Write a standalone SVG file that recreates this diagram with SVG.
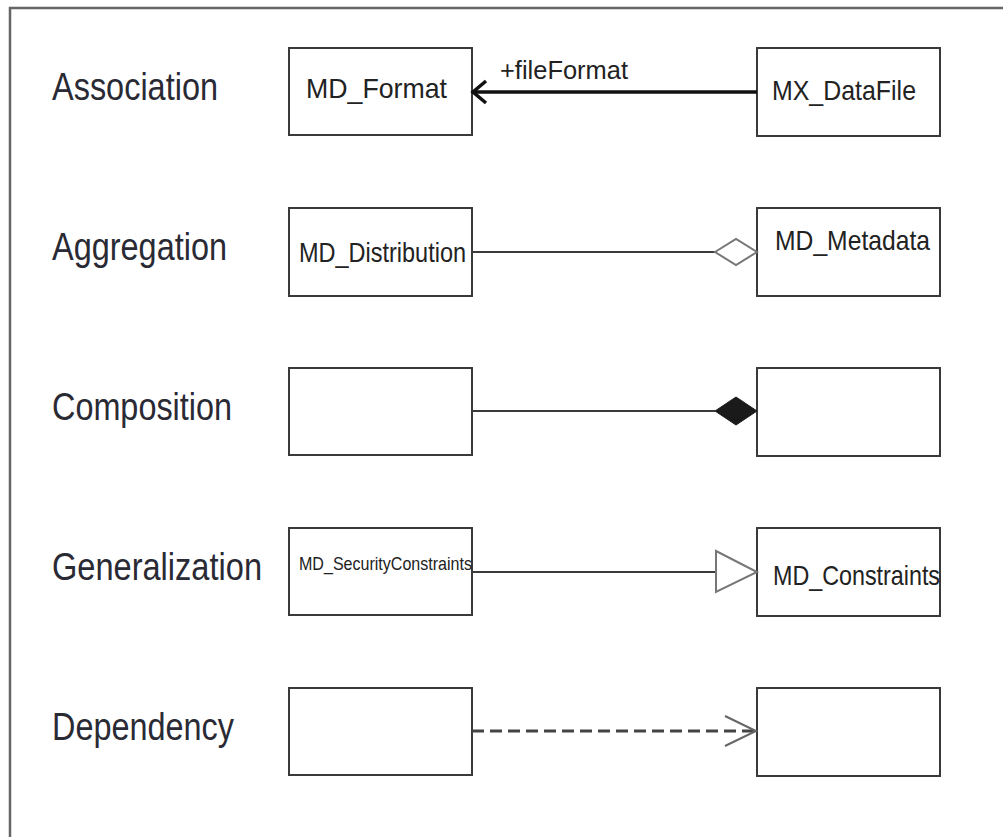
<svg xmlns="http://www.w3.org/2000/svg" width="1003" height="837" viewBox="0 0 1003 837">
<style>
.frame{fill:none;stroke:#666;stroke-width:2.5}
.box{fill:#fff;stroke:#3a3a3a;stroke-width:2}
.lbl{font-family:"Liberation Sans",Arial,sans-serif;font-size:38px;fill:#2a2a35}
.t{font-family:"Liberation Sans",Arial,sans-serif;font-size:28px;fill:#222}
.ln{fill:none;stroke:#3a3a3a;stroke-width:2}
</style>
<rect width="1003" height="837" fill="#fff"/>
<path class="frame" d="M10,840 V8 H1003"/>
<g id="labels">
<text class="lbl" x="52" y="100" textLength="166" lengthAdjust="spacingAndGlyphs">Association</text>
<text class="lbl" x="52" y="260" textLength="175" lengthAdjust="spacingAndGlyphs">Aggregation</text>
<text class="lbl" x="52" y="420" textLength="180" lengthAdjust="spacingAndGlyphs">Composition</text>
<text class="lbl" x="52" y="580" textLength="210" lengthAdjust="spacingAndGlyphs">Generalization</text>
<text class="lbl" x="52" y="740" textLength="182" lengthAdjust="spacingAndGlyphs">Dependency</text>
</g>
<g id="n-md-format"><rect class="box" x="289" y="48" width="183" height="87"/><text class="t" x="306" y="98" textLength="141" lengthAdjust="spacingAndGlyphs">MD_Format</text></g>
<g id="n-mx-datafile"><rect class="box" x="757" y="48" width="183" height="88"/><text class="t" x="772" y="100" textLength="144" lengthAdjust="spacingAndGlyphs">MX_DataFile</text></g>
<g id="n-md-distribution"><rect class="box" x="289" y="208" width="183" height="88"/><text class="t" x="299" y="262" textLength="167" lengthAdjust="spacingAndGlyphs">MD_Distribution</text></g>
<g id="n-md-metadata"><rect class="box" x="757" y="208" width="183" height="88"/><text class="t" x="775" y="250" textLength="155" lengthAdjust="spacingAndGlyphs">MD_Metadata</text></g>
<g id="n-comp-a"><rect class="box" x="289" y="368" width="183" height="87"/></g>
<g id="n-comp-b"><rect class="box" x="757" y="368" width="183" height="88"/></g>
<g id="n-md-securityconstraints"><rect class="box" x="289" y="528" width="183" height="87"/><text class="t" x="299" y="570" style="font-size:19px" textLength="173" lengthAdjust="spacingAndGlyphs">MD_SecurityConstraints</text></g>
<g id="n-md-constraints"><rect class="box" x="757" y="528" width="183" height="88"/><text class="t" x="773" y="585" textLength="167" lengthAdjust="spacingAndGlyphs">MD_Constraints</text></g>
<g id="n-dep-a"><rect class="box" x="289" y="688" width="183" height="87"/></g>
<g id="n-dep-b"><rect class="box" x="757" y="688" width="183" height="88"/></g>
<g id="connectors">
<line x1="757" y1="92" x2="474" y2="92" stroke="#111" stroke-width="3.5"/>
<polyline points="486,81 473,92 486,103" fill="none" stroke="#111" stroke-width="3.5"/>
<text class="t" x="500" y="79" style="font-size:25px" textLength="128" lengthAdjust="spacingAndGlyphs">+fileFormat</text>
<line class="ln" x1="472" y1="252" x2="715" y2="252"/>
<polygon points="715,252 736,239 757,252 736,265" fill="#fff" stroke="#777" stroke-width="2"/>
<line class="ln" x1="472" y1="411" x2="715" y2="411"/>
<polygon points="715,411 736,397 757,411 736,425" fill="#1a1a1a" stroke="#1a1a1a" stroke-width="1"/>
<line class="ln" x1="472" y1="572" x2="716" y2="572"/>
<polygon points="716,551 757,572 716,592" fill="#fff" stroke="#777" stroke-width="2"/>
<line x1="472" y1="731" x2="756" y2="731" stroke="#444" stroke-width="3" stroke-dasharray="12,6"/>
<polyline points="725,716 756,731 725,746" fill="none" stroke="#666" stroke-width="2"/>
</g>
</svg>
